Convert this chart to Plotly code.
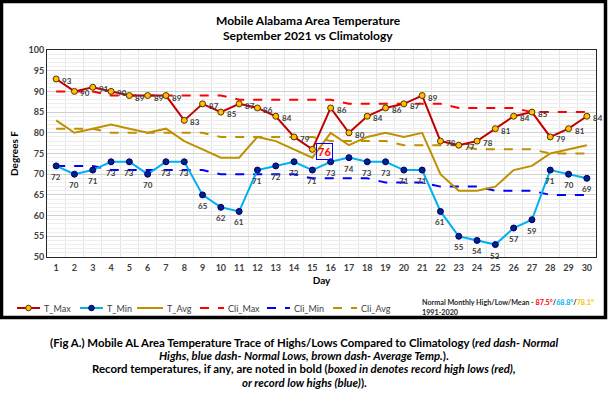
import plotly.graph_objects as go

days = list(range(1, 31))
t_max = [93, 90, 91, 90, 89, 89, 89, 83, 87, 85, 87, 86, 84, 79, 76,
         86, 80, 84, 86, 87, 89, 78, 77, 78, 81, 84, 85, 79, 81, 84]
t_min = [72, 70, 71, 73, 73, 70, 73, 73, 65, 62, 61, 71, 72, 73, 71,
         73, 74, 73, 73, 71, 71, 61, 55, 54, 53, 57, 59, 71, 70, 69]
t_avg = [83, 80, 81, 82, 81, 80, 81, 78, 76, 74, 74, 79, 78, 76, 74,
         80, 77, 79, 80, 79, 80, 70, 66, 66, 67, 71, 72, 75, 76, 77]
cli_max = [90, 90, 90, 89, 89, 89, 89, 89, 89, 89, 88, 88, 88, 88, 88,
           88, 87, 87, 87, 87, 87, 87, 86, 86, 86, 86, 85, 85, 85, 85]
cli_min = [72, 72, 72, 71, 71, 71, 71, 71, 71, 70, 70, 70, 70, 70, 69,
           69, 69, 69, 68, 68, 68, 67, 67, 67, 66, 66, 66, 65, 65, 65]
cli_avg = [81, 81, 81, 80, 80, 80, 80, 80, 80, 79, 79, 79, 79, 79, 79,
           78, 78, 78, 78, 77, 77, 77, 77, 76, 76, 76, 76, 75, 75, 75]
record_days = [15]
y_ticks = list(range(50, 101, 5))
series_names = ["T_Max", "T_Min", "T_Avg", "Cli_Max", "Cli_Min", "Cli_Avg"]

W, H = 608, 396
ML, MR, MT, MB = 47, 12, 50, 139
PW = W - ML - MR
PH = H - MT - MB


def px(x):
    return (x - ML) / PW


def py(y):
    return (H - MB - y) / PH


FONT = "Lato"
LBL = dict(family=FONT, size=8, color="#404040", weight="bold")

styles = {
    "T_Max": dict(line=dict(color="#c00000", width=2),
                  marker=dict(size=6, color="#ffc000", line=dict(color="#5a3000", width=1))),
    "T_Min": dict(line=dict(color="#00b0f0", width=2),
                  marker=dict(size=6, color="#00208f", line=dict(color="#000060", width=1))),
    "T_Avg": dict(line=dict(color="#bf9000", width=2)),
    "Cli_Max": dict(line=dict(color="#ff0000", width=2, dash="dash")),
    "Cli_Min": dict(line=dict(color="#0000ff", width=2, dash="dash")),
    "Cli_Avg": dict(line=dict(color="#bf9000", width=2, dash="dash")),
}
values = {"T_Max": t_max, "T_Min": t_min, "T_Avg": t_avg,
          "Cli_Max": cli_max, "Cli_Min": cli_min, "Cli_Avg": cli_avg}

fig = go.Figure()
for name in ["Cli_Max", "Cli_Min", "Cli_Avg", "T_Avg", "T_Min", "T_Max"]:
    st = styles[name]
    fig.add_trace(go.Scatter(x=days, y=values[name], name=name,
                             mode="lines+markers" if "marker" in st else "lines",
                             showlegend=False, **st))

annotations = []
shapes = []
for d, v in zip(days, t_max):
    if d in record_days:
        annotations.append(dict(x=d, y=v, text="<b>%d</b>" % v, showarrow=False,
                                xshift=12, yshift=-2,
                                font=dict(family=FONT, size=11, color="#ff0000"),
                                bordercolor="#0000ff", borderwidth=1, borderpad=1))
    else:
        annotations.append(dict(x=d, y=v, text=str(v), showarrow=False,
                                xshift=11, yshift=-2, font=LBL))
for d, v in zip(days, t_min):
    annotations.append(dict(x=d, y=v, text=str(v), showarrow=False,
                            xshift=0, yshift=-11, font=LBL))

# legend (drawn manually to match spacing)
leg_y = 308
leg_lines = {"T_Max": (17, 40), "T_Min": (80, 103), "T_Avg": (137, 163),
             "Cli_Max": (200, 224), "Cli_Min": (267, 290), "Cli_Avg": (333, 357)}
for name in series_names:
    x0, x1 = leg_lines[name]
    ln = styles[name]["line"]
    shapes.append(dict(type="line", xref="paper", yref="paper",
                       x0=px(x0), x1=px(x1), y0=py(leg_y), y1=py(leg_y),
                       line=dict(color=ln["color"], width=2, dash=ln.get("dash", "solid"))))
    if "marker" in styles[name]:
        mk = styles[name]["marker"]
        shapes.append(dict(type="circle", xref="paper", yref="paper",
                           xsizemode="pixel", ysizemode="pixel",
                           xanchor=px((x0 + x1) / 2), yanchor=py(leg_y),
                           x0=-2.8, x1=2.8, y0=-2.8, y1=2.8,
                           fillcolor=mk["color"], line=dict(color=mk["line"]["color"], width=1)))
    annotations.append(dict(xref="paper", yref="paper", x=px(x1 + 2), y=py(leg_y),
                            xanchor="left", yanchor="middle", showarrow=False, text=name,
                            font=dict(family=FONT, size=9, color="#404040")))

annotations.append(dict(xref="paper", yref="paper", x=px(420), y=py(302.7), xanchor="left",
                        yanchor="middle", showarrow=False,
                        text="Normal Monthly High/Low/Mean - <span style='color:#ff0000'>87.5°</span>/"
                             "<span style='color:#00b0f0'>68.8°</span>/"
                             "<span style='color:#ffc000'>78.1°</span>",
                        font=dict(family=FONT, size=7.2, color="#262626", weight="bold")))
annotations.append(dict(xref="paper", yref="paper", x=px(420), y=py(312.5), xanchor="left",
                        yanchor="middle", showarrow=False, text="1991-2020",
                        font=dict(family=FONT, size=7.2, color="#262626", weight="bold")))

# title
for txt, yy in [("Mobile Alabama Area Temperature", 20.7),
                ("September 2021 vs Climatology", 35.3)]:
    annotations.append(dict(xref="paper", yref="paper", x=px(308), y=py(yy),
                            xanchor="center", yanchor="middle", showarrow=False,
                            text="<b>%s</b>" % txt,
                            font=dict(family=FONT, size=12, color="#000000")))

caption_lines = [
    "(Fig A.) Mobile AL Area Temperature Trace of Highs/Lows Compared to Climatology (<i>red dash- Normal</i>",
    "<i>Highs, blue dash- Normal Lows, brown dash- Average Temp.</i>).",
    "Record temperatures, if any, are noted in bold (<i>boxed in denotes record high lows (red),</i>",
    "<i>or record low highs (blue)</i>).",
]
for txt, yy in zip(caption_lines, [342, 355.3, 368.6, 382]):
    annotations.append(dict(xref="paper", yref="paper", x=px(304), y=py(yy), xanchor="center",
                            yanchor="middle", showarrow=False, text=txt,
                            font=dict(family=FONT, size=11.4, color="#000000", weight="bold")))

shapes.append(dict(type="rect", xref="paper", yref="paper",
                   x0=px(1.5), x1=px(605.5), y0=py(317.5), y1=py(1.5),
                   line=dict(color="#000000", width=3.5), fillcolor="rgba(0,0,0,0)", layer="above"))

fig.update_layout(
    width=W, height=H,
    margin=dict(l=ML, r=MR, t=MT, b=MB, autoexpand=False),
    paper_bgcolor="white", plot_bgcolor="white",
    showlegend=False,
    hovermode=False,
    annotations=annotations,
    shapes=shapes,
)

fig.update_xaxes(range=[0.5, 30.5], tickmode="array", tickvals=days, ticktext=[str(d) for d in days],
                 showgrid=False, zeroline=False, automargin=False,
                 minor=dict(tick0=0.5, dtick=1, showgrid=True, gridcolor="#e6e6e6", gridwidth=1),
                 showline=True, mirror=True, linecolor="#262626", linewidth=1,
                 ticks="", ticklabelstandoff=2,
                 tickfont=dict(family=FONT, size=9, color="#404040", weight="bold"),
                 title=dict(text="<b>Day</b>", standoff=5,
                            font=dict(family=FONT, size=10, color="#000000")))
fig.update_yaxes(range=[50, 100], tickmode="array", tickvals=y_ticks,
                 showgrid=True, gridcolor="#d0d0d0", gridwidth=1, zeroline=False, automargin=False,
                 minor=dict(dtick=1, showgrid=True, gridcolor="#eeeeee", gridwidth=1),
                 showline=True, mirror=True, linecolor="#262626", linewidth=1,
                 ticks="", tickfont=dict(family=FONT, size=9, color="#404040", weight="bold"),
                 title=dict(text="<b>Degrees F</b>", standoff=8,
                            font=dict(family=FONT, size=10, color="#000000")))

fig.write_html("out.html",
               config={"displayModeBar": False},
               post_script="document.body.style.margin='0';document.body.style.padding='0';")
